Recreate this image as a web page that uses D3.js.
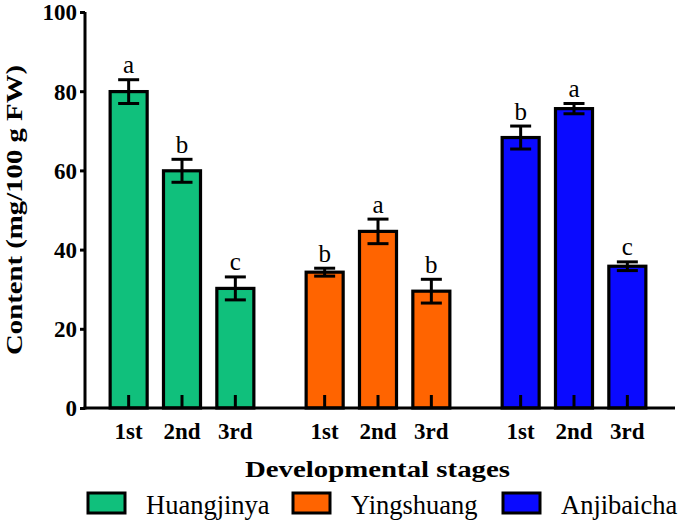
<!DOCTYPE html>
<html>
<head>
<meta charset="utf-8">
<script src="https://cdn.jsdelivr.net/npm/d3@7"></script>
<style>
  html, body { margin: 0; padding: 0; background: #fff; }
  svg { display: block; }
  text { font-family: "Liberation Serif", "Times New Roman", Times, serif; }
</style>
</head>
<body>
<svg id="chart" width="685" height="526"></svg>
<script>
// ---- data ----
const cultivars = ["Huangjinya", "Yingshuang", "Anjibaicha"];
const stages = ["1st", "2nd", "3rd"];
const huangjinyaValues = [79.9, 59.9, 30.2];
const huangjinyaErrors = [3.0, 2.9, 2.9];
const huangjinyaLetters = ["a", "b", "c"];
const yingshuangValues = [34.3, 44.6, 29.5];
const yingshuangErrors = [1.0, 3.1, 3.0];
const yingshuangLetters = ["b", "a", "b"];
const anjibaichaValues = [68.3, 75.6, 35.8];
const anjibaichaErrors = [2.9, 1.3, 1.1];
const anjibaichaLetters = ["b", "a", "c"];
const yTicks = [0, 20, 40, 60, 80, 100];
const colors = ["#10c07c", "#ff6400", "#0a0aff"];

const seriesValues = [huangjinyaValues, yingshuangValues, anjibaichaValues];
const seriesErrors = [huangjinyaErrors, yingshuangErrors, anjibaichaErrors];
const seriesLetters = [huangjinyaLetters, yingshuangLetters, anjibaichaLetters];

const FONT = "'Liberation Serif', 'Times New Roman', Times, serif";

const rows = [];
cultivars.forEach((c, gi) => {
  stages.forEach((s, si) => {
    rows.push({cultivar: c, stage: s, gi, si,
      value: seriesValues[gi][si], err: seriesErrors[gi][si], letter: seriesLetters[gi][si]});
  });
});

const svg = d3.select("#chart");
const axisX0 = 85, axisX1 = 675, yBottom = 408, yTop = 12;

const y = d3.scaleLinear().domain([0, 100]).range([yBottom, yTop]);
const xOuter = d3.scaleBand().domain(cultivars).range([84, 672]).paddingInner(0).paddingOuter(0);
const xInner = d3.scaleBand().domain(stages).range([0, xOuter.bandwidth()]).paddingInner(0.306).paddingOuter(0.49);
const cx = d => xOuter(d.cultivar) + xInner(d.stage) + xInner.bandwidth() / 2;

// bars
svg.append("g").selectAll("rect").data(rows).join("rect")
  .attr("x", d => xOuter(d.cultivar) + xInner(d.stage))
  .attr("y", d => y(d.value))
  .attr("width", xInner.bandwidth())
  .attr("height", d => y(0) - y(d.value))
  .attr("fill", d => colors[d.gi])
  .attr("stroke", "#000")
  .attr("stroke-width", 3.2);

// inner ticks on x axis at bar centres
svg.append("g").selectAll("line").data(rows).join("line")
  .attr("x1", cx).attr("x2", cx)
  .attr("y1", yBottom).attr("y2", yBottom - 13)
  .attr("stroke", "#000").attr("stroke-width", 3);

// error bars
const eg = svg.append("g").attr("stroke", "#000").attr("stroke-width", 3);
eg.selectAll("line.v").data(rows).join("line").attr("class", "v")
  .attr("x1", cx).attr("x2", cx)
  .attr("y1", d => y(d.value + d.err)).attr("y2", d => y(d.value - d.err));
eg.selectAll("line.t").data(rows).join("line").attr("class", "t")
  .attr("x1", d => cx(d) - 10.5).attr("x2", d => cx(d) + 10.5)
  .attr("y1", d => y(d.value + d.err)).attr("y2", d => y(d.value + d.err));
eg.selectAll("line.b").data(rows).join("line").attr("class", "b")
  .attr("x1", d => cx(d) - 10.5).attr("x2", d => cx(d) + 10.5)
  .attr("y1", d => y(d.value - d.err)).attr("y2", d => y(d.value - d.err));

// significance letters
svg.append("g").selectAll("text").data(rows).join("text")
  .attr("x", cx)
  .attr("y", d => y(d.value + d.err) - 6.5)
  .attr("text-anchor", "middle")
  .attr("font-family", FONT)
  .attr("font-size", 25)
  .attr("fill", "#000")
  .text(d => d.letter);

// y axis
const yAxis = d3.axisLeft(y).tickValues(yTicks).tickSizeInner(5).tickSizeOuter(0).tickPadding(3);
const ya = svg.append("g").attr("transform", `translate(${axisX0},0)`).call(yAxis)
  .attr("font-family", FONT);
ya.select(".domain").attr("stroke-width", 3).attr("d", `M0,${yBottom + 1.5}V${yTop}`);
ya.selectAll(".tick line").attr("stroke-width", 3);
ya.selectAll(".tick text")
  .attr("font-family", FONT)
  .attr("font-size", 23).attr("font-weight", "bold").attr("fill", "#000")
  .attr("dy", "0.34em");

// x axis line
svg.append("line")
  .attr("x1", axisX0 - 1.5).attr("x2", axisX1)
  .attr("y1", yBottom).attr("y2", yBottom)
  .attr("stroke", "#000").attr("stroke-width", 3);

// x tick labels
svg.append("g").selectAll("text").data(rows).join("text")
  .attr("x", cx)
  .attr("y", 439)
  .attr("text-anchor", "middle")
  .attr("font-family", FONT)
  .attr("font-size", 23)
  .attr("font-weight", "bold")
  .text(d => d.stage);

// axis titles
svg.append("text")
  .attr("x", 377.5).attr("y", 477)
  .attr("text-anchor", "middle")
  .attr("font-family", FONT)
  .attr("font-size", 23.5).attr("font-weight", "bold")
  .attr("textLength", 265).attr("lengthAdjust", "spacingAndGlyphs")
  .text("Developmental stages");

svg.append("text")
  .attr("transform", "translate(22,210) rotate(-90)")
  .attr("text-anchor", "middle")
  .attr("font-family", FONT)
  .attr("font-size", 23.5).attr("font-weight", "bold")
  .attr("textLength", 290).attr("lengthAdjust", "spacingAndGlyphs")
  .text("Content (mg/100 g FW)");

// legend
const legendX = [88, 293, 503];
const lg = svg.append("g").selectAll("g").data(cultivars).join("g")
  .attr("transform", (d, i) => `translate(${legendX[i]},493)`);
lg.append("rect")
  .attr("width", 37).attr("height", 20)
  .attr("fill", (d, i) => colors[i])
  .attr("stroke", "#000").attr("stroke-width", 3);
lg.append("text")
  .attr("x", 58).attr("y", 21)
  .attr("font-family", FONT)
  .attr("font-size", 26.5)
  .text(d => d);
</script>
</body>
</html>
